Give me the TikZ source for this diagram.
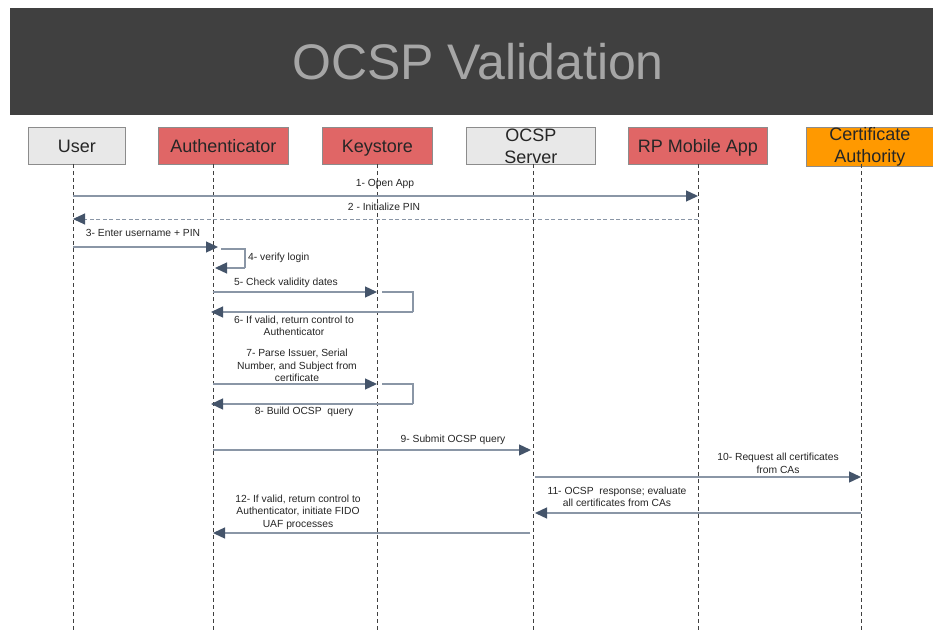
\documentclass[tikz,border=0pt]{standalone}
\usepackage{fontspec}
\setmainfont{Liberation Sans}
\usetikzlibrary{arrows.meta}
\definecolor{barbg}{HTML}{404040}
\definecolor{titlefg}{HTML}{A6A6A6}
\definecolor{boxgray}{HTML}{E8E8E8}
\definecolor{boxred}{HTML}{E06666}
\definecolor{boxorange}{HTML}{FF9900}
\definecolor{boxline}{HTML}{8C8C8C}
\definecolor{msgline}{HTML}{8A96A6}
\definecolor{tipcol}{HTML}{44546A}
\definecolor{txt}{HTML}{262626}
\tikzset{
  x=1pt, y=-1pt,
  actorbase/.style={draw=boxline, line width=0.8pt, minimum height=37pt, inner sep=0pt,
    anchor=north west, font=\fontsize{18}{22}\selectfont, text=txt},
  actor/.style={actorbase, text height=13pt, text depth=0pt},
  actortwo/.style={actorbase, align=center},
  lifeline/.style={draw=black!75, dashed, dash pattern=on 4pt off 3pt, line width=0.6pt},
  msg/.style={draw=msgline, line width=1.3pt, -{Triangle[length=12pt,width=11pt,color=tipcol]}},
  msgline/.style={draw=msgline, line width=1.3pt},
  lbl/.style={font=\fontsize{10.3}{12.5}\selectfont, text=txt, align=center, inner sep=0pt}
}
\begin{document}
\begin{tikzpicture}
\useasboundingbox[fill=white] (0,0) rectangle (933,631);
% title bar
\fill[barbg] (10,8) rectangle (933,115);
\node[text=titlefg, font=\fontsize{50}{56}\selectfont] (title) at (478,62) {OCSP Validation};
% actors
\node[actor, fill=boxgray, minimum width=97pt] (user) at (28,127) {User};
\node[actor, fill=boxred, minimum width=130pt] (auth) at (158,127) {Authenticator};
\node[actor, fill=boxred, minimum width=110pt] (key) at (322,127) {Keystore};
\node[actortwo, fill=boxgray, minimum width=129pt] (ocsp) at (466,127) {OCSP\\Server};
\node[actor, fill=boxred, minimum width=139pt] (rp) at (628,127) {RP Mobile App};
\node[actortwo, fill=boxorange, minimum width=127pt] (ca) at (806,127) {Certificate\\Authority};
% lifelines
\coordinate (uL) at (73,164);  \coordinate (uE) at (73,631);
\coordinate (aL) at (213,164); \coordinate (aE) at (213,631);
\coordinate (kL) at (377,164); \coordinate (kE) at (377,631);
\coordinate (oL) at (533,164); \coordinate (oE) at (533,631);
\coordinate (rL) at (698,164); \coordinate (rE) at (698,631);
\coordinate (cL) at (861,164); \coordinate (cE) at (861,631);
\foreach \a/\b in {uL/uE,aL/aE,kL/kE,oL/oE,rL/rE,cL/cE}
  \draw[lifeline] (\a) -- (\b);
% 1
\node[lbl] (l1) at (385,184) {1- Open App};
\draw[msg] (uL |- 0,196) -- (rL |- 0,196);
% 2
\node[lbl] (l2) at (384,207) {2 - Initialize PIN};
\draw[msg, dashed, dash pattern=on 4pt off 2.5pt, line width=1pt] (rL |- 0,219) -- (uL |- 0,219);
% 3
\node[lbl] (l3) at (143,233) {3- Enter username + PIN};
\draw[msg] (uL |- 0,247) -- ([xshift=5pt]aL |- 0,247);
% 4
\node[lbl, anchor=west] (l4) at (248,258) {4- verify login};
\coordinate (c4a) at (245,249);
\coordinate (c4b) at (245,268);
\draw[msgline] ([xshift=8pt]aL |- 0,249) -- (c4a) -- (c4b);
\draw[msg] (c4b) -- ([xshift=2pt]aL |- 0,268);
% 5
\node[lbl] (l5) at (286,283) {5- Check validity dates};
\draw[msg] (aL |- 0,292) -- (kL |- 0,292);
% 6
\coordinate (c6a) at (413,292);
\coordinate (c6b) at (413,312);
\draw[msgline] ([xshift=5pt]kL |- 0,292) -- (c6a) -- (c6b);
\draw[msg] (c6b) -- ([xshift=-2pt]aL |- 0,312);
\node[lbl] (l6) at (294,326) {6- If valid, return control to\\Authenticator};
% 7
\node[lbl] (l7) at (297,365.5) {7- Parse Issuer, Serial\\Number, and Subject from\\certificate};
\draw[msg] (aL |- 0,384) -- (kL |- 0,384);
% 8
\coordinate (c8a) at (413,384);
\coordinate (c8b) at (413,404);
\draw[msgline] ([xshift=5pt]kL |- 0,384) -- (c8a) -- (c8b);
\draw[msg] (c8b) -- ([xshift=-2pt]aL |- 0,404);
\node[lbl] (l8) at (304,412) {8- Build OCSP\ \ query};
% 9
\node[lbl] (l9) at (453,440) {9- Submit OCSP query};
\draw[msg] (aL |- 0,450) -- ([xshift=-2pt]oL |- 0,450);
% 10
\node[lbl] (l10) at (778,463.5) {10- Request all certificates\\from CAs};
\draw[msg] ([xshift=2pt]oL |- 0,477) -- (cL |- 0,477);
% 11
\node[lbl] (l11) at (617,497) {11- OCSP\ \ response; evaluate\\all certificates from CAs};
\draw[msg] (cL |- 0,513) -- ([xshift=2pt]oL |- 0,513);
% 12
\node[lbl] (l12) at (298,512) {12- If valid, return control to\\Authenticator, initiate FIDO\\UAF processes};
\draw[msg] ([xshift=-3pt]oL |- 0,533) -- (aL |- 0,533);
\end{tikzpicture}
\end{document}
